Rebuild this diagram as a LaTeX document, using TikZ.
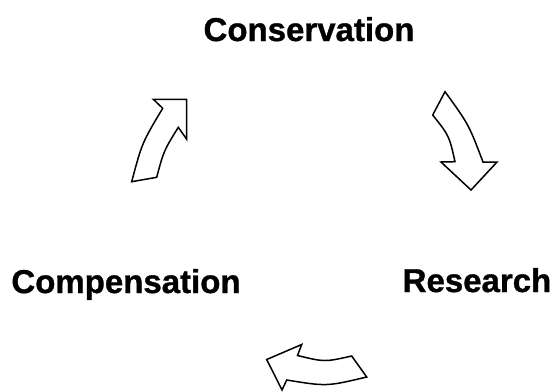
\documentclass[tikz,border=0pt]{standalone}
\usepackage{fontspec}
\setmainfont{Liberation Sans}[FakeBold=1]
\begin{document}
\begin{tikzpicture}[x=1pt,y=-1pt,
  label/.style={font=\fontsize{33}{40}\selectfont\bfseries, anchor=base, inner sep=0pt},
  cyclearrow/.style={draw=black, fill=white, line width=1.5pt, line join=miter}]
\useasboundingbox (0,0) rectangle (553,391);
\node[label] (cons) at (309,41) {Conservation};
\node[label] (comp) at (126,293) {Compensation};
\node[label] (res) at (477,292) {Research};
% arrow from Compensation to Conservation
\draw[cyclearrow] (131.7,181.7) -- (156.7,177.3)
  .. controls (163.8,150.7) .. (178.3,127.3)
  -- (186.7,139.3) -- (186.7,99.3) -- (153.3,99.3) -- (162.7,108.3)
  .. controls (142,142.9) .. cycle;
% arrow from Conservation to Research
\draw[cyclearrow] (445,91.7) -- (432.7,115)
  .. controls (449.2,135.8) .. (455,161.7)
  -- (441,162) -- (471,190) -- (497,162) -- (483,162)
  .. controls (468.7,124.4) .. cycle;
% arrow from Research to Compensation
\draw[cyclearrow] (351.7,356) -- (366.7,377)
  .. controls (326.7,386.5) .. (286.7,380)
  -- (282,390) -- (266.7,359.5) -- (301.7,344.5) -- (297.5,355.5)
  .. controls (324.6,362.1) .. cycle;
\end{tikzpicture}
\end{document}
